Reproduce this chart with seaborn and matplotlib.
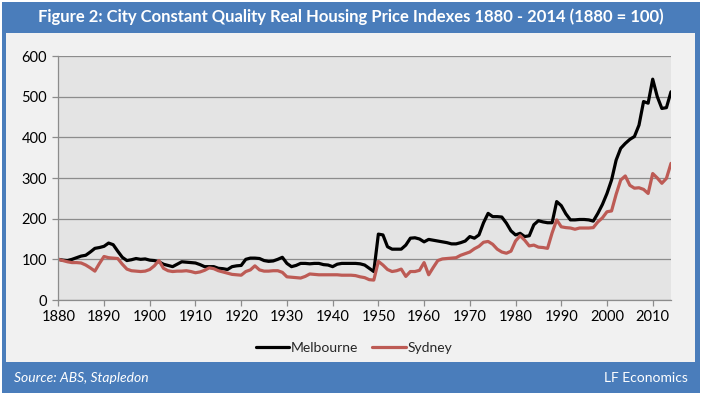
import numpy as np
import pandas as pd
import matplotlib
matplotlib.use("Agg")
import matplotlib.pyplot as plt
from matplotlib.patches import Rectangle
import seaborn as sns

years = list(range(1880, 2015))
melbourne = [
    100, 98, 97, 100, 104, 108, 110, 118, 127, 129,
    132, 140, 136, 120, 105, 97, 99, 102, 100, 101,
    98, 97, 94, 88, 85, 82, 88, 94, 93, 92,
    91, 87, 82, 82, 82, 78, 77, 75, 82, 84,
    85, 100, 103, 103, 102, 97, 95, 96, 100, 105,
    90, 82, 85, 90, 90, 89, 90, 90, 87, 86,
    82, 88, 90, 90, 90, 90, 89, 86, 78, 70,
    162, 160, 131, 125, 125, 125, 135, 152, 153, 150,
    143, 149, 147, 145, 143, 141, 138, 138, 141, 145,
    156, 152, 160, 190, 213, 205, 205, 204, 189, 170,
    160, 164, 156, 158, 185, 195, 192, 190, 190, 242,
    232, 212, 197, 197, 198, 198, 197, 194, 213, 235,
    262, 295, 344, 373, 385, 395, 402, 430, 488, 484,
    543, 500, 471, 473, 512,
]
sydney = [
    100, 97, 94, 92, 92, 91, 86, 79, 71, 90,
    107, 104, 103, 102, 88, 76, 72, 71, 70, 71,
    75, 84, 97, 78, 72, 70, 71, 71, 72, 70,
    67, 69, 73, 79, 77, 72, 69, 66, 63, 62,
    61, 70, 74, 84, 74, 71, 71, 72, 72, 68,
    57, 56, 55, 54, 58, 64, 63, 62, 62, 62,
    62, 62, 61, 61, 61, 60, 57, 55, 50, 49,
    95, 86, 75, 70, 72, 76, 58, 70, 70, 73,
    92, 62, 80, 97, 101, 102, 103, 104, 110, 114,
    118, 126, 132, 142, 144, 137, 125, 118, 115, 120,
    145, 158, 147, 133, 135, 130, 129, 127, 165, 197,
    180, 178, 177, 174, 177, 177, 177, 178, 192, 202,
    217, 219, 260, 295, 305, 282, 275, 276, 272, 262,
    311, 300, 287, 299, 336,
]
series_names = ["Melbourne", "Sydney"]
x_ticks = list(range(1880, 2011, 10))
y_ticks = [0, 100, 200, 300, 400, 500, 600]
title = "Figure 2: City Constant Quality Real Housing Price Indexes 1880 - 2014 (1880 = 100)"
source = "Source: ABS, Stapledon"
brand = "LF Economics"

df = pd.DataFrame({
    "Year": years * 2,
    "Index": melbourne + sydney,
    "City": [series_names[0]] * len(years) + [series_names[1]] * len(years),
})

sns.set_theme(style="white")
plt.rcParams["font.family"] = ["Lato", "DejaVu Sans"]

W, H = 703, 398
fig = plt.figure(figsize=(W / 100, H / 100), dpi=100)
fig.patch.set_facecolor("white")

def fr(x0, y0, x1, y1, color, z):
    fig.patches.append(Rectangle((x0 / W, 1 - y1 / H), (x1 - x0) / W, (y1 - y0) / H,
                                 transform=fig.transFigure, facecolor=color,
                                 edgecolor="none", zorder=z))

blue = "#4a7dbb"
fr(2, 2, 700, 393, blue, -3)
fr(6, 33, 695, 362, "#f1f1f1", -2)

fig.text(351 / W, 1 - 17 / H, title, color="white", fontsize=12, fontweight="bold",
         ha="center", va="center")
fig.text(14 / W, 1 - 378 / H, source, color="white", fontsize=10, style="italic",
         ha="left", va="center")
fig.text(688 / W, 1 - 378 / H, brand, color="white", fontsize=10,
         ha="right", va="center")

left, right, top, bottom = 58.3, 671, 56, 300
ax = fig.add_axes([left / W, 1 - bottom / H, (right - left) / W, (bottom - top) / H])
ax.set_zorder(5)
ax.set_facecolor("#e4e4e4")

sns.lineplot(data=df, x="Year", y="Index", hue="City",
             palette={"Melbourne": "#000000", "Sydney": "#bd5b55"},
             linewidth=2.3, ax=ax, legend=True)

ax.set_xlim(1880, 2014)
ax.set_ylim(0, 600)
ax.set_xticks(x_ticks)
ax.set_yticks(y_ticks)
ax.set_xlabel("")
ax.set_ylabel("")
ax.yaxis.grid(True, color="#8c8c8c", linewidth=0.9)
ax.xaxis.grid(False)
for s in ["top", "right"]:
    ax.spines[s].set_visible(False)
for s in ["left", "bottom"]:
    ax.spines[s].set_color("#8c8c8c")
    ax.spines[s].set_linewidth(0.9)
ax.tick_params(axis="both", which="major", length=4, width=0.9, color="#8c8c8c",
               labelsize=10.5, labelcolor="black", direction="out")
ax.tick_params(axis="x", pad=3)
ax.tick_params(axis="y", pad=4)
ax.tick_params(bottom=True, left=True)

handles, labels = ax.get_legend_handles_labels()
ax.get_legend().remove()
fig.legend(handles, labels, loc="center", bbox_to_anchor=(354 / W, 1 - 348 / H),
           ncol=2, frameon=False, fontsize=10, handlelength=2.4,
           handletextpad=0.15, columnspacing=1.0)

fig.savefig("out.png", dpi=100, facecolor=fig.get_facecolor())
